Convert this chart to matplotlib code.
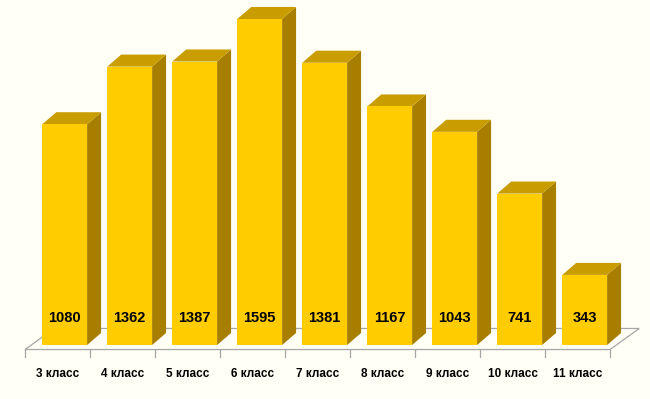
import matplotlib
matplotlib.use('Agg')
import matplotlib.pyplot as plt
from matplotlib.patches import Polygon

categories = ['3 класс', '4 класс', '5 класс', '6 класс', '7 класс',
              '8 класс', '9 класс', '10 класс', '11 класс']
values = [1080, 1362, 1387, 1595, 1381, 1167, 1043, 741, 343]

bg_color = '#fffff6'
front_color = '#ffcc00'
top_color = '#c99c00'
side_color = '#a87e00'
floor_color = '#a6a6a6'

# fake 3d geometry, in data units (1 x unit = one category)
bar_width = 0.69
bar_dx, bar_dy = 0.215, 59
floor_dx, floor_dy = 0.45, 103
floor_front = -22
bar_shift = 0.11          # front face pushed back into the floor

fig = plt.figure(figsize=(6.5, 3.99), dpi=100, facecolor=bg_color)
ax = fig.add_axes([0, 0, 1, 1])
ax.set_facecolor(bg_color)
ax.set_xlim(-0.885, 9.115)
ax.set_ylim(-264, 1688)
ax.axis('off')

n = len(categories)

# floor
x0, x1 = -0.5, n - 0.5
floor = Polygon([(x0, floor_front), (x1, floor_front),
                 (x1 + floor_dx, floor_front + floor_dy),
                 (x0 + floor_dx, floor_front + floor_dy)],
                closed=True, facecolor=bg_color, edgecolor=floor_color,
                linewidth=0.9, zorder=1)
ax.add_patch(floor)

# tick marks under front edge
for k in range(n + 1):
    ax.plot([x0 + k, x0 + k], [floor_front, floor_front - 36],
            color=floor_color, linewidth=0.9, zorder=1)

for i, v in enumerate(values):
    left = i - bar_width / 2 + bar_shift
    right = left + bar_width
    base = 0
    top = v
    side = Polygon([(right, base), (right + bar_dx, base + bar_dy),
                    (right + bar_dx, top + bar_dy), (right, top)],
                   closed=True, facecolor=side_color, edgecolor='none', zorder=3)
    roof = Polygon([(left, top), (right, top),
                    (right + bar_dx, top + bar_dy), (left + bar_dx, top + bar_dy)],
                   closed=True, facecolor=top_color, edgecolor='none', zorder=3)
    front = Polygon([(left, base), (right, base), (right, top), (left, top)],
                    closed=True, facecolor=front_color, edgecolor='none', zorder=4)
    ax.add_patch(side)
    ax.add_patch(roof)
    ax.add_patch(front)
    ax.text((left + right) / 2, 133, str(v), ha='center', va='center',
            fontsize=10.5, fontweight='bold', color='black',
            family='Liberation Sans', zorder=5)

for i, name in enumerate(categories):
    ax.text(i, -142, name, ha='center', va='center', fontsize=8.5,
            fontweight='bold', color='black', family='Liberation Sans')

fig.savefig('out.png', dpi=100, facecolor=bg_color)
